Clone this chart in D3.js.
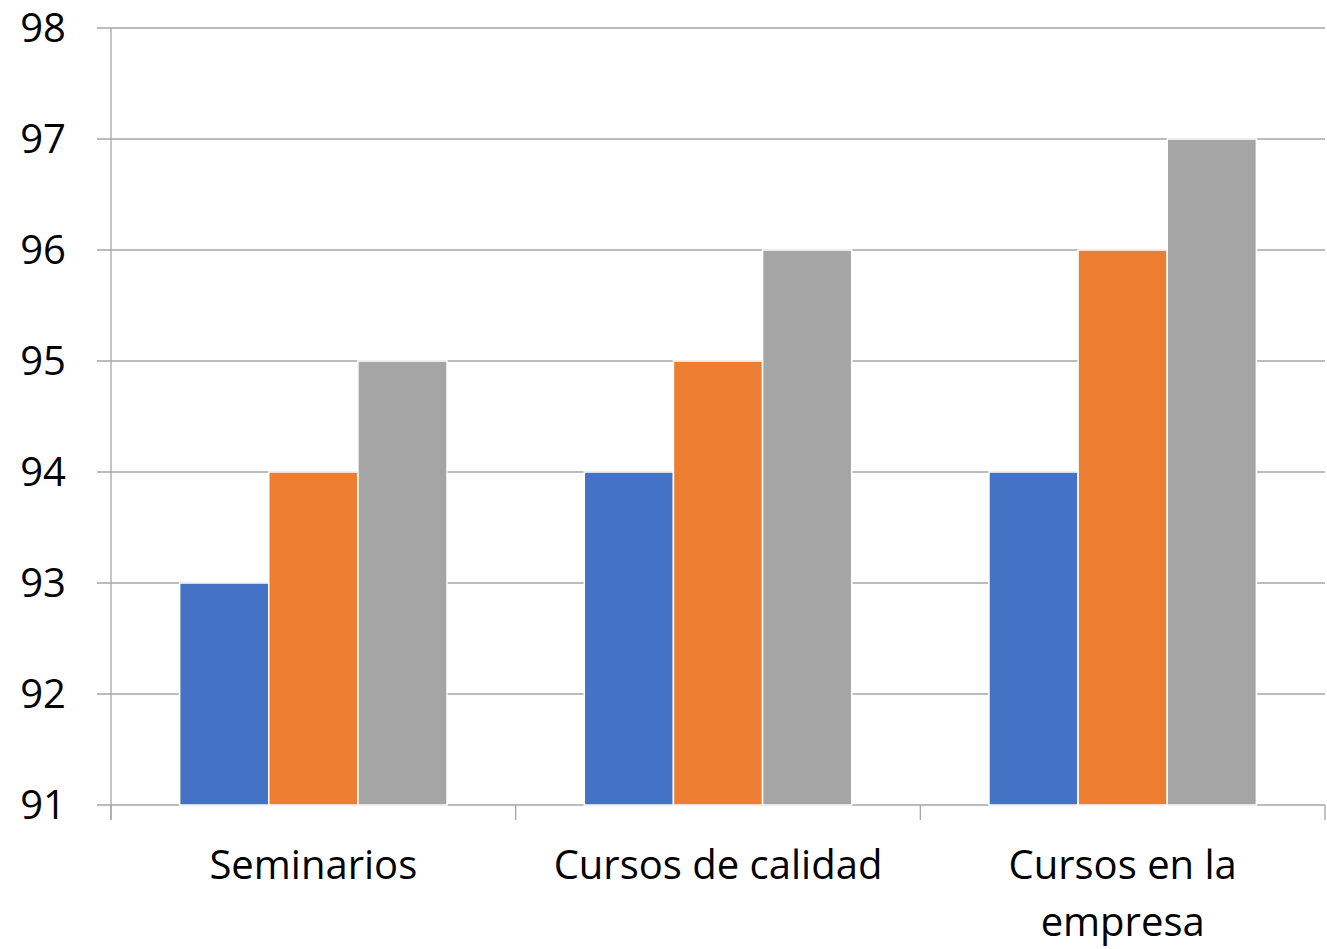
<!DOCTYPE html>
<html>
<head>
<meta charset="utf-8">
<script src="https://cdn.jsdelivr.net/npm/d3@7"></script>
<style>
  body { margin: 0; background: #fff; }
  svg { display: block; font-family: "Open Sans", sans-serif; }
</style>
</head>
<body>
<svg id="chart"></svg>
<script>
const categories = ["Seminarios", "Cursos de calidad", "Cursos en la empresa"]
const seriesNames = ["Serie 1", "Serie 2", "Serie 3"]
const serie1 = [93, 94, 94]
const serie2 = [94, 95, 96]
const serie3 = [95, 96, 97]
const yTicks = [91, 92, 93, 94, 95, 96, 97, 98]
const colors = ["#4472C4", "#ED7D31", "#A5A5A5"]

const width = 1327
const height = 949
const margin = { top: 28, right: 2, bottom: 144, left: 111 }
const innerWidth = width - margin.left - margin.right
const innerHeight = height - margin.top - margin.bottom

const svg = d3.select("#chart").attr("width", width).attr("height", height)
const g = svg.append("g").attr("transform", `translate(${margin.left},${margin.top})`)

const series = [serie1, serie2, serie3]
const data = categories.map((c, i) => ({ cat: c, values: series.map((s, j) => ({ key: seriesNames[j], value: s[i], idx: j })) }))

// scales
const x0 = d3.scaleBand().domain(categories).range([0, innerWidth]).paddingInner(0).paddingOuter(0)
const x1 = d3.scaleBand().domain(seriesNames).range([0, x0.bandwidth()]).paddingInner(0).paddingOuter(0.77)
const y = d3.scaleLinear().domain([91, 98]).range([innerHeight, 0])

// gridlines
g.append("g")
  .selectAll("line")
  .data(yTicks)
  .join("line")
  .attr("x1", -14)
  .attr("x2", innerWidth)
  .attr("y1", (d) => y(d))
  .attr("y2", (d) => y(d))
  .attr("stroke", "#A6A6A6")
  .attr("stroke-width", 1.3)

// y labels
g.append("g")
  .selectAll("text")
  .data(yTicks)
  .join("text")
  .attr("x", -45)
  .attr("y", (d) => y(d))
  .attr("dy", "0.36em")
  .attr("text-anchor", "end")
  .attr("font-size", 40)
  .attr("fill", "#000")
  .text((d) => d)

// y axis line
g.append("line")
  .attr("x1", 0).attr("x2", 0)
  .attr("y1", 0).attr("y2", innerHeight + 15)
  .attr("stroke", "#A6A6A6").attr("stroke-width", 1.3)

// category tick marks
const bounds = categories.map((c) => x0(c) + x0.bandwidth()).concat([0])
g.append("g")
  .selectAll("line")
  .data(bounds)
  .join("line")
  .attr("x1", (d) => d).attr("x2", (d) => d)
  .attr("y1", innerHeight).attr("y2", innerHeight + 15)
  .attr("stroke", "#A6A6A6").attr("stroke-width", 1.3)

// bars
g.append("g")
  .selectAll("g")
  .data(data)
  .join("g")
  .attr("transform", (d) => `translate(${x0(d.cat)},0)`)
  .selectAll("rect")
  .data((d) => d.values)
  .join("rect")
  .attr("x", (d) => x1(d.key))
  .attr("width", x1.bandwidth())
  .attr("y", (d) => y(d.value))
  .attr("height", (d) => innerHeight - y(d.value))
  .attr("fill", (d) => colors[d.idx])
  .attr("stroke", "#fff")
  .attr("stroke-width", 1.5)

// category labels
const catLines = { "Cursos en la empresa": ["Cursos en la", "empresa"] }
const labels = g.append("g")
  .selectAll("text")
  .data(categories)
  .join("text")
  .attr("x", (d) => x0(d) + x0.bandwidth() / 2)
  .attr("y", innerHeight + 74)
  .attr("text-anchor", "middle")
  .attr("font-size", 40)
  .attr("fill", "#000")

labels.selectAll("tspan")
  .data((d) => catLines[d] || [d])
  .join("tspan")
  .attr("x", function () { return d3.select(this.parentNode).attr("x") })
  .attr("dy", (d, i) => (i === 0 ? 0 : 57))
  .text((d) => d)
</script>
</body>
</html>
